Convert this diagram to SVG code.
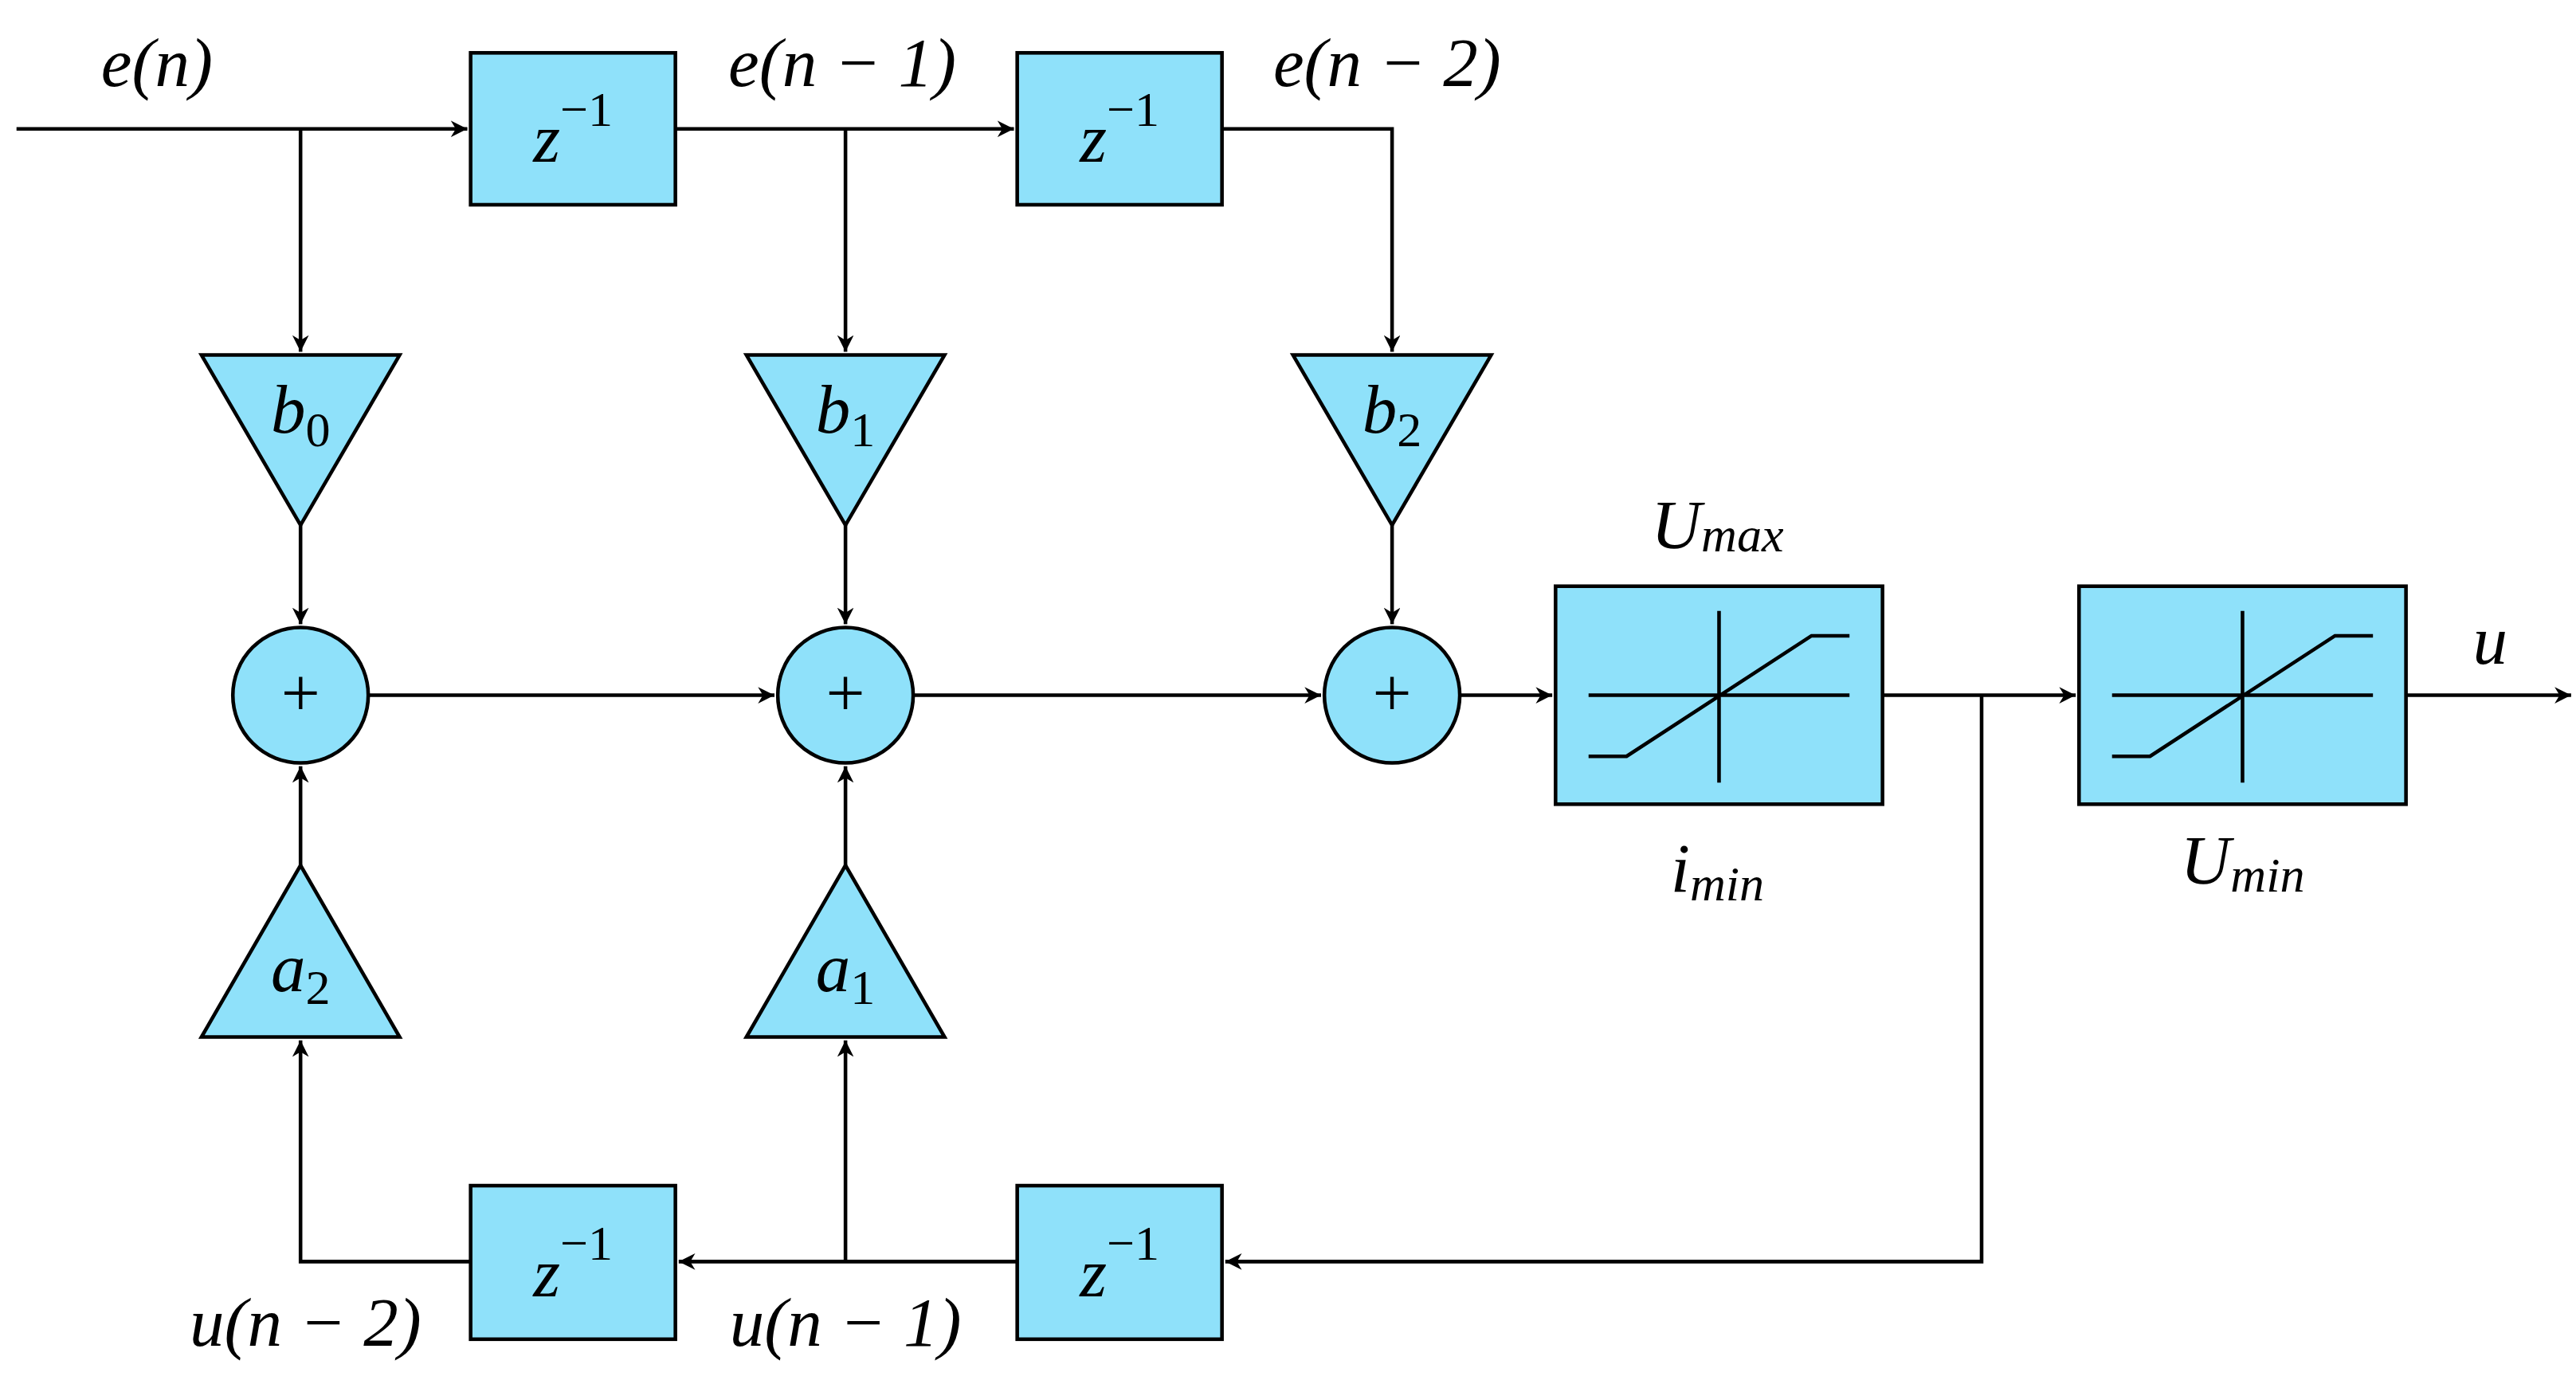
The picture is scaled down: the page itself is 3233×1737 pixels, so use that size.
<svg xmlns="http://www.w3.org/2000/svg" width="3233" height="1737" viewBox="0 0 3233 1737">
<defs>
<marker id="ah" viewBox="0 0 10 10" refX="10" refY="5" markerWidth="10" markerHeight="10" markerUnits="userSpaceOnUse" orient="auto"><path d="M0,0 L10,5 L0,10 L3,5 Z" fill="#000"/></marker>
</defs>
<style>
.b{fill:#8fe1fa;stroke:#000;stroke-width:2.2}
.l{fill:none;stroke:#000;stroke-width:2.2}
.t{font-family:"Liberation Serif",serif;font-style:italic;font-size:42px;text-anchor:middle}
.u{font-style:normal}
.s{font-size:30px}
</style>
<rect width="3233" height="1737" fill="#fff"/>
<g transform="scale(2.0725)">
<g id="connectors" class="l">
<path d="M10,78 H283" marker-end="url(#ah)"/>
<path d="M182,78 V213" marker-end="url(#ah)"/>
<path d="M409,78 H614" marker-end="url(#ah)"/>
<path d="M512,78 V213" marker-end="url(#ah)"/>
<path d="M740,78 H843 V213" marker-end="url(#ah)"/>
<path d="M182,318 V378" marker-end="url(#ah)"/>
<path d="M512,318 V378" marker-end="url(#ah)"/>
<path d="M843,318 V378" marker-end="url(#ah)"/>
<path d="M223,421 H469" marker-end="url(#ah)"/>
<path d="M553,421 H800" marker-end="url(#ah)"/>
<path d="M884,421 H940" marker-end="url(#ah)"/>
<path d="M1140,421 H1257" marker-end="url(#ah)"/>
<path d="M1457,421 H1557" marker-end="url(#ah)"/>
<path d="M1200,421 V764 H742" marker-end="url(#ah)"/>
<path d="M616,764 H411" marker-end="url(#ah)"/>
<path d="M512,764 V630" marker-end="url(#ah)"/>
<path d="M285,764 H182 V630" marker-end="url(#ah)"/>
<path d="M512,524 V464" marker-end="url(#ah)"/>
<path d="M182,524 V464" marker-end="url(#ah)"/>
</g>
<g id="z1"><rect class="b" x="285" y="32" width="124" height="92"/><text class="t" x="347" y="98">z<tspan class="u s" dy="-22">−1</tspan></text></g>
<g id="z2"><rect class="b" x="616" y="32" width="124" height="92"/><text class="t" x="678" y="98">z<tspan class="u s" dy="-22">−1</tspan></text></g>
<g id="z3"><rect class="b" x="285" y="718" width="124" height="93"/><text class="t" x="347" y="785">z<tspan class="u s" dy="-22">−1</tspan></text></g>
<g id="z4"><rect class="b" x="616" y="718" width="124" height="93"/><text class="t" x="678" y="785">z<tspan class="u s" dy="-22">−1</tspan></text></g>
<g id="b0"><path class="b" d="M122,215 H242 L182,318 Z"/><text class="t" x="182" y="262">b<tspan class="u s" dy="8">0</tspan></text></g>
<g id="b1"><path class="b" d="M452,215 H572 L512,318 Z"/><text class="t" x="512" y="262">b<tspan class="u s" dy="8">1</tspan></text></g>
<g id="b2"><path class="b" d="M783,215 H903 L843,318 Z"/><text class="t" x="843" y="262">b<tspan class="u s" dy="8">2</tspan></text></g>
<g id="a2"><path class="b" d="M122,628 H242 L182,524 Z"/><text class="t" x="182" y="600">a<tspan class="u s" dy="8">2</tspan></text></g>
<g id="a1"><path class="b" d="M452,628 H572 L512,524 Z"/><text class="t" x="512" y="600">a<tspan class="u s" dy="8">1</tspan></text></g>
<g id="sum0"><circle class="b" cx="182" cy="421" r="41"/><text class="t u" x="182" y="434">+</text></g>
<g id="sum1"><circle class="b" cx="512" cy="421" r="41"/><text class="t u" x="512" y="434">+</text></g>
<g id="sum2"><circle class="b" cx="843" cy="421" r="41"/><text class="t u" x="843" y="434">+</text></g>
<g id="sat1"><rect class="b" x="942" y="355" width="198" height="132"/><path class="l" d="M962,421 H1120 M1041,370 V474 M962,458 H985 L1097,385 H1120"/></g>
<g id="sat2"><rect class="b" x="1259" y="355" width="198" height="132"/><path class="l" d="M1279,421 H1437 M1358,370 V474 M1279,458 H1302 L1414,385 H1437"/></g>
<g id="labels">
<text class="t" x="95" y="52">e(n)</text>
<text class="t" x="510" y="52">e(n − 1)</text>
<text class="t" x="840" y="52">e(n − 2)</text>
<text class="t" x="1040" y="332">U<tspan class="s" dy="2">max</tspan></text>
<text class="t" x="1040" y="540">i<tspan class="s" dy="5">min</tspan></text>
<text class="t" x="1358" y="535">U<tspan class="s" dy="5">min</tspan></text>
<text class="t" x="1508" y="402">u</text>
<text class="t" x="185" y="815">u(n − 2)</text>
<text class="t" x="512" y="815">u(n − 1)</text>
</g>
</g>
</svg>
